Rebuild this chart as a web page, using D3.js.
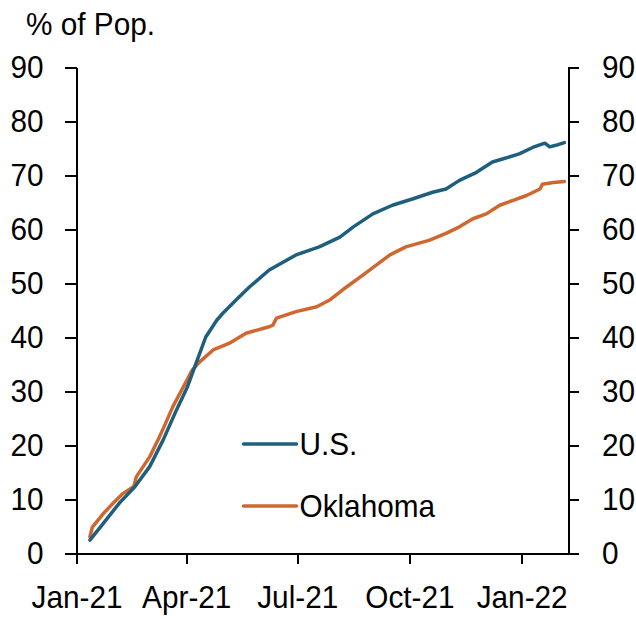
<!DOCTYPE html>
<html lang="en">
<head>
<meta charset="utf-8">
<title>% of Pop. – U.S. vs Oklahoma</title>
<script src="https://cdn.jsdelivr.net/npm/d3@7"></script>
<style>
  body { margin: 0; background: #fff; }
  text { font-family: "Liberation Sans", Arial, sans-serif; fill: #000; font-size: 32px;
         transform-box: fill-box; transform: scaleX(0.93); }
  .axis path, .axis line { stroke: #000; stroke-width: 2; shape-rendering: crispEdges; }
  .axis text { font-size: 32px; }
  .yleft text { transform-origin: right center; }
  .yright text { transform-origin: left center; }
  .xaxis text { transform-origin: center center; }
  .lbl { transform-origin: left center; }
</style>
</head>
<body>
<div id="viz"></div>
<script>
// DATA
var usDates = ["2021-01-12","2021-01-23","2021-02-05","2021-02-18","2021-03-02","2021-03-13",
  "2021-03-24","2021-04-02","2021-04-09","2021-04-15","2021-04-17","2021-04-26","2021-05-01",
  "2021-05-12","2021-05-23","2021-06-08","2021-06-30","2021-07-19","2021-08-05","2021-08-16",
  "2021-09-01","2021-09-17","2021-10-04","2021-10-20","2021-10-31","2021-11-11","2021-11-25",
  "2021-12-08","2021-12-17","2021-12-30","2022-01-10","2022-01-20","2022-01-24","2022-01-29",
  "2022-02-05"];
var usValues = [2.4,5.5,9.2,12.3,16.0,20.9,26.5,30.8,35.1,38.8,40.0,43.1,44.4,46.9,49.3,52.4,
  55.2,56.7,58.5,60.4,62.8,64.4,65.6,66.8,67.4,69.0,70.5,72.4,73.0,73.9,75.1,75.9,75.2,75.5,76.0];

var okDates = ["2021-01-12","2021-01-14","2021-01-23","2021-01-31","2021-02-08","2021-02-17",
  "2021-02-19","2021-03-02","2021-03-10","2021-03-15","2021-03-21","2021-03-29","2021-04-06",
  "2021-04-12","2021-04-23","2021-05-06","2021-05-20","2021-06-08","2021-06-11","2021-06-14",
  "2021-06-30","2021-07-17","2021-07-28","2021-08-07","2021-08-24","2021-09-15","2021-09-28",
  "2021-10-17","2021-10-31","2021-11-11","2021-11-22","2021-12-03","2021-12-14","2021-12-25",
  "2022-01-05","2022-01-16","2022-01-18","2022-01-27","2022-02-05"];
var okValues = [3.0,4.8,7.3,9.2,11.0,12.3,14.1,17.8,21.5,24.0,27.1,30.5,33.9,35.4,37.6,38.8,
  40.7,41.9,42.2,43.5,44.7,45.6,46.9,48.7,51.5,55.2,56.7,57.9,59.2,60.4,61.9,62.8,64.4,65.3,
  66.2,67.4,68.3,68.6,68.8];

var seriesNames = ["U.S.", "Oklahoma"];
var seriesColors = ["#1f5f7e", "#cf672e"];
var xTickDates = ["2021-01-01","2021-04-01","2021-07-01","2021-10-01","2022-01-01"];
var yTicks = [0,10,20,30,40,50,60,70,80,90];

(function(d3) {
  var w = 636, h = 619;
  var margin = {top: 67, right: 68, bottom: 66, left: 76.5};
  var width = w - margin.left - margin.right,
      height = h - margin.top - margin.bottom;

  var parse = d3.timeParse("%Y-%m-%d");
  var fmt = d3.timeFormat("%b-%y");

  var series = [
    usDates.map(function(d, i) { return {date: parse(d), value: usValues[i]}; }),
    okDates.map(function(d, i) { return {date: parse(d), value: okValues[i]}; })
  ];

  // SCALES
  var xScale = d3.scaleTime()
    .domain([parse("2021-01-01"), parse("2022-02-08")])
    .range([0, width]);
  var yScale = d3.scaleLinear()
    .domain([0, 90])
    .range([height, 0]);

  var svg = d3.select("#viz").append("svg")
    .attr("width", w)
    .attr("height", h)
    .append("g")
    .attr("transform", "translate(" + margin.left + "," + margin.top + ")");

  // AXES
  var yLeft = d3.axisLeft(yScale).tickValues(yTicks).tickSize(12).tickPadding(21).tickSizeOuter(0);
  var yRight = d3.axisRight(yScale).tickValues(yTicks).tickSize(11).tickPadding(23).tickSizeOuter(0);
  var xAxis = d3.axisBottom(xScale).tickValues(xTickDates.map(parse)).tickFormat(fmt)
    .tickSize(11).tickPadding(21).tickSizeOuter(0);

  svg.append("g").attr("class", "axis yleft").call(yLeft);
  svg.append("g").attr("class", "axis yright")
    .attr("transform", "translate(" + width + ",0)").call(yRight);
  svg.append("g").attr("class", "axis xaxis")
    .attr("transform", "translate(0," + height + ")").call(xAxis);

  // LINES
  var line = d3.line()
    .x(function(d) { return xScale(d.date); })
    .y(function(d) { return yScale(d.value); });

  // draw Oklahoma first, U.S. on top
  [1, 0].forEach(function(i) {
    svg.append("path")
      .datum(series[i])
      .attr("fill", "none")
      .attr("stroke", seriesColors[i])
      .attr("stroke-width", 3.5)
      .attr("stroke-linejoin", "round")
      .attr("stroke-linecap", "round")
      .attr("d", line);
  });

  // title
  d3.select("svg").append("text")
    .attr("class", "lbl")
    .attr("x", 26).attr("y", 35)
    .text("% of Pop.");

  // LEGEND
  var legend = svg.append("g").attr("transform", "translate(167,377)");
  seriesNames.forEach(function(name, i) {
    var g = legend.append("g").attr("transform", "translate(0," + (i * 62) + ")");
    g.append("line")
      .attr("x1", 0).attr("x2", 53)
      .attr("stroke", seriesColors[i])
      .attr("stroke-width", 3.5)
      .attr("stroke-linecap", "round");
    g.append("text")
      .attr("class", "lbl")
      .attr("x", 56).attr("dy", "0.35em")
      .text(name);
  });
})(d3);
</script>
</body>
</html>
